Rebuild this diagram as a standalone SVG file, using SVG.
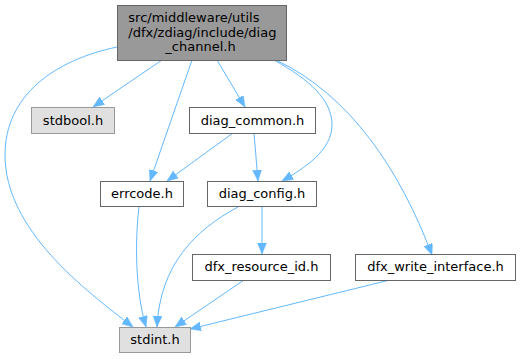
<svg xmlns="http://www.w3.org/2000/svg" width="521" height="359" viewBox="0 0 521 359">
<style>
  .node rect { stroke-width: 1; }
  .main rect { fill: #999999; stroke: #666666; }
  .sys rect { fill: #e0e0e0; stroke: #999999; }
  .plain rect { fill: #ffffff; stroke: #666666; }
  text { font-family: "DejaVu Sans", "Liberation Sans", sans-serif; font-size: 13px; fill: #000000; }
  .c { text-anchor: middle; }
  .edges path { fill: none; stroke: #63b8ff; stroke-width: 1; marker-end: url(#arr); }
</style>
<defs>
  <marker id="arr" markerUnits="userSpaceOnUse" markerWidth="12" markerHeight="10" refX="11" refY="4.5" orient="auto">
    <path d="M0,0 L11,4.5 L0,9 z" fill="#63b8ff" stroke="#63b8ff" stroke-width="0.5"/>
  </marker>
</defs>
<rect width="521" height="359" fill="#ffffff"/>
<g class="edges">
  <path d="M162,60 L93,107"/>
  <path d="M192,60 L150,181"/>
  <path d="M217,60 L245,107"/>
  <path d="M117,47 C55,60 5,95 5,155 C5,230 85,290 133,327"/>
  <path d="M274,60 C310,80 332,100 332,125 C332,150 305,168 282,181"/>
  <path d="M276,60 C350,95 400,170 432,255"/>
  <path d="M233,133 L167,181"/>
  <path d="M254,133 L258,181"/>
  <path d="M139,207 C135,240 135,290 146,327"/>
  <path d="M238,207 C195,230 160,265 157,327"/>
  <path d="M262,207 L262,254"/>
  <path d="M244,280 L175,327"/>
  <path d="M390,280 L190,329"/>
</g>
<g id="node_main" class="node main">
  <rect x="117.5" y="5.5" width="169" height="55"/>
  <text x="128.3" y="22">src/middleware/utils</text>
  <text x="128.3" y="36.5">/dfx/zdiag/include/diag</text>
  <text x="200.5" y="51" class="c">_channel.h</text>
</g>
<g id="node_stdbool" class="node sys">
  <rect x="31.5" y="107.5" width="83" height="26"/>
  <text x="73" y="124.5" class="c">stdbool.h</text>
</g>
<g id="node_diag_common" class="node plain">
  <rect x="189.5" y="107.5" width="126" height="26"/>
  <text x="252.5" y="124.5" class="c">diag_common.h</text>
</g>
<g id="node_errcode" class="node plain">
  <rect x="100.5" y="181.5" width="83" height="25"/>
  <text x="142" y="197.5" class="c">errcode.h</text>
</g>
<g id="node_diag_config" class="node plain">
  <rect x="207.5" y="181.5" width="109" height="25"/>
  <text x="262" y="197.5" class="c">diag_config.h</text>
</g>
<g id="node_dfx_resource_id" class="node plain">
  <rect x="192.5" y="254.5" width="138" height="26"/>
  <text x="261.5" y="271" class="c">dfx_resource_id.h</text>
</g>
<g id="node_dfx_write_interface" class="node plain">
  <rect x="355.5" y="254.5" width="160" height="26"/>
  <text x="435.5" y="271" class="c">dfx_write_interface.h</text>
</g>
<g id="node_stdint" class="node sys">
  <rect x="119.5" y="327.5" width="71" height="25"/>
  <text x="155" y="343.5" class="c">stdint.h</text>
</g>
</svg>
